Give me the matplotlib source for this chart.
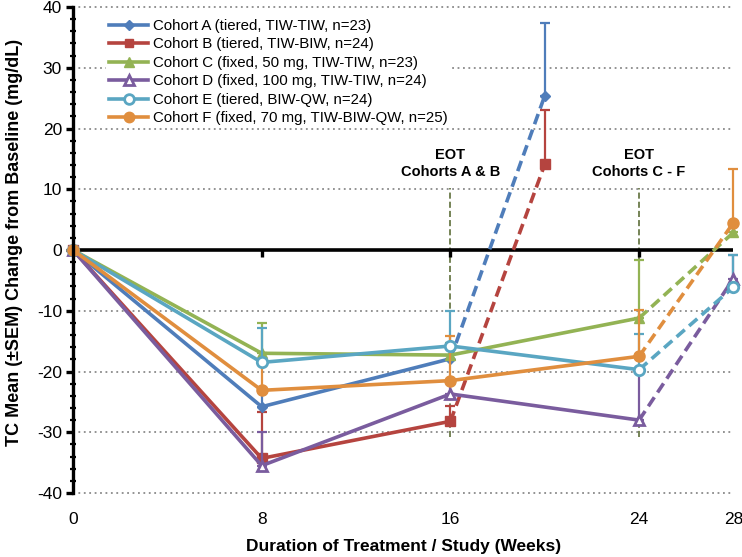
import matplotlib
matplotlib.use('Agg')
import matplotlib.pyplot as plt
import numpy as np

# Semanas de cada visita
semanas_ab = [0, 8, 16, 20]
semanas_cf = [0, 8, 16, 24, 28]

# Media TC (cambio desde basal) y SEM superior
cohorte_a = [0, -25.8, -17.9, 25.4]
cohorte_a_sem = [0, 2.5, 2.0, 12.0]
cohorte_b = [0, -34.3, -28.2, 14.1]
cohorte_b_sem = [0, 7.6, 2.5, 8.9]
cohorte_c = [0, -17.0, -17.3, -11.2, 2.9]
cohorte_c_sem = [0, 5.0, 2.0, 9.6, 1.5]
cohorte_d = [0, -35.5, -23.7, -28.0, -4.7]
cohorte_d_sem = [0, 5.6, 2.0, 8.0, 3.9]
cohorte_e = [0, -18.5, -15.8, -19.7, -6.1]
cohorte_e_sem = [0, 5.6, 5.7, 5.8, 5.3]
cohorte_f = [0, -23.1, -21.5, -17.5, 4.5]
cohorte_f_sem = [0, 4.5, 7.3, 7.6, 8.8]

etiquetas = ['Cohort A (tiered, TIW-TIW, n=23)',
             'Cohort B (tiered, TIW-BIW, n=24)',
             'Cohort C (fixed, 50 mg, TIW-TIW, n=23)',
             'Cohort D (fixed, 100 mg, TIW-TIW, n=24)',
             'Cohort E (tiered, BIW-QW, n=24)',
             'Cohort F (fixed, 70 mg, TIW-BIW-QW, n=25)']

xticks = [0, 8, 16, 24, 28]
eot_semanas = [16, 24]
eot_textos = ['EOT\nCohorts A & B', 'EOT\nCohorts C - F']

colores = ['#4F7DBA', '#B5443F', '#93B354', '#7A5C9E', '#5AA6C2', '#E08E3E']
marcadores = ['D', 's', '^', '^', 'o', 'o']
tamanos = [5.5, 6.5, 7, 7.5, 7.5, 8]
relleno = [None, None, None, 'white', 'white', None]

series = [(semanas_ab, cohorte_a, cohorte_a_sem),
          (semanas_ab, cohorte_b, cohorte_b_sem),
          (semanas_cf, cohorte_c, cohorte_c_sem),
          (semanas_cf, cohorte_d, cohorte_d_sem),
          (semanas_cf, cohorte_e, cohorte_e_sem),
          (semanas_cf, cohorte_f, cohorte_f_sem)]

plt.rcParams['font.family'] = ['Liberation Sans', 'DejaVu Sans']
plt.rcParams['axes.unicode_minus'] = False

fig = plt.figure(figsize=(7.42, 5.57), dpi=100)
ax = fig.add_axes([0.0984, 0.1149, 0.8901, 0.8725])

ax.set_xlim(0, 28)
ax.set_ylim(-40, 40)

# Rejilla punteada (sin la línea del cero)
for y in range(-40, 41, 10):
    if y != 0:
        ax.plot([0, 28], [y, y], color='#8a8a8a', linestyle=(0, (1, 2)),
                linewidth=1.3, zorder=1, clip_on=False)

# Línea del cero con marcas hacia abajo
ax.axhline(0, color='black', linewidth=2.6, zorder=2.5)
ax.plot(xticks[1:-1], [0] * len(xticks[1:-1]), linestyle='none', marker=3,
        markersize=5, markeredgewidth=2.4, color='black', zorder=2.5)

# Líneas EOT
for s in eot_semanas:
    ax.plot([s, s], [-30.8, 10.2], color='#4F6228', linestyle=(0, (4, 2)),
            linewidth=1.1, zorder=2)

handles = []
for i, (xs, ys, sem) in enumerate(series):
    c = colores[i]
    xs = np.array(xs)
    ys = np.array(ys)
    sem = np.array(sem)
    # barras de error (solo hacia arriba)
    ax.errorbar(xs[1:], ys[1:], yerr=[np.zeros(len(sem) - 1), sem[1:]],
                fmt='none', ecolor=c, elinewidth=1.6, capsize=3.5,
                capthick=1.6, zorder=3 + i, clip_on=False)
    # tramo sólido y tramo discontinuo
    ax.plot(xs[:-1], ys[:-1], color=c, linewidth=2.6, zorder=4 + i,
            solid_capstyle='round')
    ax.plot(xs[-2:], ys[-2:], color=c, linewidth=2.6, linestyle=(0, (3, 1.6)),
            zorder=4 + i, clip_on=False)
    mfc = relleno[i] if relleno[i] else c
    ax.plot(xs, ys, linestyle='none', marker=marcadores[i],
            markersize=tamanos[i], markerfacecolor=mfc,
            markeredgecolor=c, markeredgewidth=2 if relleno[i] else 1,
            zorder=5 + i, clip_on=False)
    lh, = ax.plot([], [], color=c, linewidth=2.6, marker=marcadores[i],
                  markersize=tamanos[i] - 0.5, markerfacecolor=mfc,
                  markeredgecolor=c, markeredgewidth=2 if relleno[i] else 1)
    handles.append(lh)

# Textos EOT
for s, t in zip(eot_semanas, eot_textos):
    ax.text(s, 14.3, t, ha='center', va='center', fontsize=10.5,
            fontweight='bold', linespacing=1.25, zorder=20)

# Ejes
for lado in ['top', 'right', 'bottom']:
    ax.spines[lado].set_visible(False)
ax.spines['left'].set_linewidth(2.4)
ax.spines['left'].set_zorder(15)

ax.set_yticks(range(-40, 41, 10))
ax.set_yticks(np.arange(-40, 41, 2), minor=True)
ax.tick_params(axis='y', which='major', length=5, width=2.4, direction='out',
               labelsize=12.5, pad=3)
ax.tick_params(axis='y', which='minor', length=4, width=1.6, direction='inout')

ax.set_xticks(xticks)
ax.set_xticklabels([str(x) for x in xticks])
ax.tick_params(axis='x', which='both', length=0, labelsize=12.5, pad=14)

ax.set_xlabel('Duration of Treatment / Study (Weeks)', fontsize=12.5,
              fontweight='bold', labelpad=8)
ax.set_ylabel('TC Mean (±SEM) Change from Baseline (mg/dL)', fontsize=13,
              fontweight='bold')
ax.yaxis.set_label_coords(-0.076, 0.515)

leg = ax.legend(handles, etiquetas, loc='upper left', bbox_to_anchor=(0.05, 0.982),
                fontsize=10.8, frameon=True, framealpha=1, edgecolor='none',
                handlelength=2.6, handletextpad=0.3, labelspacing=0.3,
                borderpad=0.2, borderaxespad=0)
leg.set_zorder(30)

plt.savefig('out.png', dpi=100)
